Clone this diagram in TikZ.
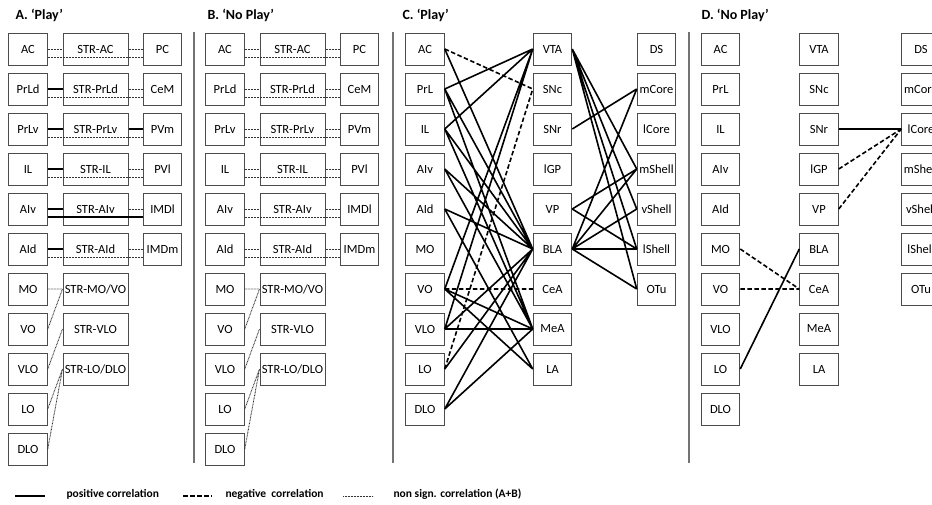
\documentclass[tikz,border=0pt]{standalone}
\usepackage{fontspec}
\setmainfont{Carlito}
\begin{document}
\begin{tikzpicture}[x=1pt,y=-1pt,
	regbox/.style={draw=black!70,line width=1pt,minimum width=38.5pt,minimum height=32pt,inner sep=0pt,font=\fontsize{12.5}{14}\selectfont},
	strbox/.style={regbox,minimum width=65pt},
	poscor/.style={line width=1.6pt},
	thickcor/.style={line width=2.4pt},
	negcor/.style={line width=1.6pt,dash pattern=on 4.5pt off 2.5pt},
	nscor/.style={line width=0.9pt,black!80,dash pattern=on 0.8pt off 0.7pt},
	heading/.style={anchor=west,font=\fontsize{14}{16}\selectfont\bfseries},
	legtext/.style={anchor=west,font=\fontsize{11.5}{13}\selectfont\bfseries}]
	\clip (0,0) rectangle (932,504);
	\fill[white] (0,0) rectangle (932,504);
	\node[heading] (tA) at (12,15) {A. ‘Play’};
	\node[heading] (tB) at (204,15) {B. ‘No Play’};
	\node[heading] (tC) at (399,15) {C. ‘Play’};
	\node[heading] (tD) at (698,15) {D. ‘No Play’};
	\draw[black!55,line width=1.3pt] (194,32) -- (194,463) (393,32) -- (393,463) (689,32) -- (689,463);

	% panels A and B
	\foreach \p/\X in {a/0,b/197}{
		\foreach \i/\cx/\rx in {1/AC/PC,2/PrLd/CeM,3/PrLv/PVm,4/IL/PVl,5/AIv/IMDl,6/AId/IMDm}{
			\node[regbox] (\p-\cx) at ({\X+28},{9+40*\i}) {\cx};
			\node[strbox] (\p-s\cx) at ({\X+95.5},{9+40*\i}) {STR-\cx};
			\node[regbox] (\p-\rx) at ({\X+162.5},{9+40*\i}) {\rx};
		}
		\foreach \cx [count=\i from 7] in {MO,VO,VLO,LO,DLO}
			\node[regbox] (\p-\cx) at ({\X+28},{9+40*\i}) {\cx};
		\node[strbox] (\p-sMOVO) at ({\X+95.5},289) {STR-MO/VO};
		\node[strbox] (\p-sVLO) at ({\X+95.5},329) {STR-VLO};
		\node[strbox] (\p-sLODLO) at ({\X+95.5},369) {STR-LO/DLO};
		\draw[nscor] (\p-MO) -- (\p-sMOVO) (\p-VO.east) -- (\p-sMOVO.west) (\p-VLO.east) -- (\p-sVLO.west)
			(\p-LO.east) -- (\p-sLODLO.west) (\p-DLO.east) -- (\p-sLODLO.west);
	}
	\draw[poscor] (a-PrLd) -- (a-sPrLd) (a-PrLv) -- (a-sPrLv) (a-sPrLv) -- (a-PVm) (a-IL) -- (a-sIL)
		(a-AIv) -- (a-sAIv) (a-AId) -- (a-sAId) ([yshift=-8pt]a-AIv.east) -- ([yshift=-8pt]a-IMDl.west);
	\draw[nscor] (a-AC) -- (a-sAC) (a-sAC) -- (a-PC) (a-sPrLd) -- (a-CeM) (a-sIL) -- (a-PVl)
		(a-sAIv) -- (a-IMDl) (a-sAId) -- (a-IMDm);
	\foreach \cx/\rx in {AC/PC,PrLd/CeM,PrLv/PVm,IL/PVl,AId/IMDm}
		\draw[nscor] ([yshift=-8pt]a-\cx.east) -- ([yshift=-8pt]a-\rx.west);
	\foreach \cx/\rx in {AC/PC,PrLd/CeM,PrLv/PVm,IL/PVl,AIv/IMDl,AId/IMDm}
		\draw[nscor] (b-\cx) -- (b-s\cx) (b-s\cx) -- (b-\rx) ([yshift=-8pt]b-\cx.east) -- ([yshift=-8pt]b-\rx.west);

	% panels C and D
	\foreach \p/\xl/\xm/\xr in {c/425/552.5/656.5,d/720.5/819/921}{
		\foreach \cx [count=\i] in {AC,PrL,IL,AIv,AId,MO,VO,VLO,LO,DLO}
			\node[regbox] (\p-\cx) at (\xl,{9+40*\i}) {\cx};
		\foreach \cx [count=\i] in {VTA,SNc,SNr,lGP,VP,BLA,CeA,MeA,LA}
			\node[regbox] (\p-\cx) at (\xm,{9+40*\i}) {\cx};
		\foreach \cx [count=\i] in {DS,mCore,lCore,mShell,vShell,lShell,OTu}
			\node[regbox] (\p-\cx) at (\xr,{9+40*\i}) {\cx};
	}
	\draw[negcor] (c-AC.east) -- (c-SNc.west) (c-LO.east) -- (c-SNc.west) (c-VO.east) -- (c-CeA.west);
	\draw[poscor] (c-AC.east) -- (c-BLA.west)
		(c-PrL.east) -- (c-VTA.west) (c-PrL.east) -- (c-BLA.west) (c-PrL.east) -- (c-MeA.west)
		(c-IL.east) -- (c-VTA.west) (c-IL.east) -- (c-BLA.west) (c-IL.east) -- (c-MeA.west)
		(c-AIv.east) -- (c-BLA.west) (c-AIv.east) -- (c-MeA.west)
		(c-AId.east) -- (c-BLA.west) (c-AId.east) -- (c-LA.west)
		(c-VO.east) -- (c-VTA.west) (c-VO.east) -- (c-MeA.west) (c-VO.east) -- (c-LA.west)
		(c-VLO.east) -- (c-VTA.west) (c-VLO.east) -- (c-BLA.west)
		(c-LO.east) -- (c-BLA.west) (c-DLO.east) -- (c-BLA.west) (c-DLO.east) -- (c-MeA.west);
	\draw[poscor] (c-VTA.east) -- (c-mShell.west) (c-VTA.east) -- (c-vShell.west)
		(c-VTA.east) -- (c-lShell.west) (c-VTA.east) -- (c-OTu.west)
		(c-SNr.east) -- (c-mCore.west) (c-VP.east) -- (c-mShell.west) (c-VP.east) -- (c-lShell.west)
		(c-BLA.east) -- (c-mCore.west) (c-BLA.east) -- (c-mShell.west) (c-BLA.east) -- (c-vShell.west)
		(c-BLA.east) -- (c-OTu.west);
	\draw[thickcor] (c-VLO) -- (c-MeA) (c-BLA) -- (c-lShell);
	\draw[poscor] (d-SNr.east) -- (d-lCore.west) (d-LO.east) -- (d-BLA.west);
	\draw[negcor] (d-lGP.east) -- (d-lCore.west) (d-VP.east) -- (d-lCore.west)
		(d-MO.east) -- (d-CeA.west) (d-VO.east) -- (d-CeA.west);

	% legend
	\coordinate (lp1) at (15,496); \coordinate (lp2) at (45,496);
	\coordinate (ln1) at (183,496); \coordinate (ln2) at (212,496);
	\coordinate (ls1) at (343,496); \coordinate (ls2) at (373,496);
	\draw[line width=2pt] (lp1) -- (lp2);
	\draw[negcor,line width=2pt] (ln1) -- (ln2);
	\draw[nscor] (ls1) -- (ls2);
	\node[legtext] (lgp) at (63,494) {positive correlation};
	\node[legtext] (lgn) at (222,494) {negative\ \ correlation};
	\node[legtext] (lgs) at (390,494) {non sign. correlation (A+B)};
\end{tikzpicture}
\end{document}
